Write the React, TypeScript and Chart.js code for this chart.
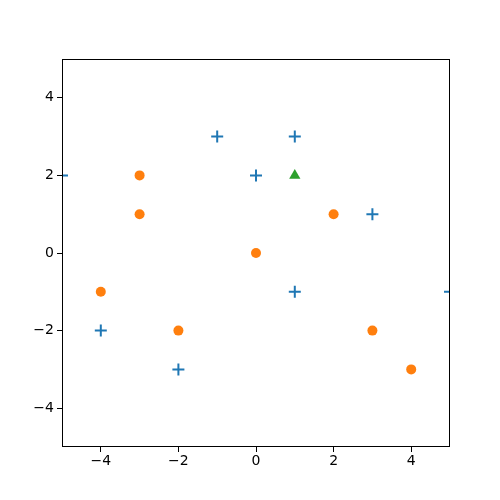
import React, { useEffect, useRef } from "react";
import { Chart, registerables } from "chart.js";

Chart.register(...registerables);

const plusX = [-5, -1, 1, 0, 3, 1, 5, -4, -2];
const plusY = [2, 3, 3, 2, 1, -1, -1, -2, -3];
const circleX = [-3, -3, 2, 0, -4, -2, 3, 4];
const circleY = [2, 1, 1, 0, -1, -2, -2, -3];
const triX = [1];
const triY = [2];
const tickValues = [-4, -2, 0, 2, 4];

const toPts = (xs: number[], ys: number[]) => xs.map((x, i) => ({ x, y: ys[i] }));

const framePlugin = {
  id: "frame",
  afterDraw(chart: any) {
    const { ctx, chartArea } = chart;
    ctx.save();
    ctx.strokeStyle = "#000";
    ctx.lineWidth = 1;
    ctx.strokeRect(
      Math.round(chartArea.left) + 0.5,
      Math.round(chartArea.top) + 0.5,
      Math.round(chartArea.right - chartArea.left) - 1,
      Math.round(chartArea.bottom - chartArea.top) - 1
    );
    ctx.restore();
  },
};

export default function App() {
  const ref = useRef<HTMLCanvasElement>(null);
  useEffect(() => {
    if (!ref.current) return;
    const font = { family: "DejaVu Sans", size: 14 };
    const axisCommon = (horizontal: boolean) => ({
      type: "linear" as const,
      min: -5,
      max: 5,
      afterBuildTicks: (axis: any) => {
        axis.ticks = tickValues.map((v) => ({ value: v }));
      },
      afterFit: (axis: any) => {
        if (horizontal) axis.height = 53;
        else axis.width = 62;
      },
      grid: {
        drawOnChartArea: false,
        drawTicks: true,
        tickLength: 5,
        color: "#000",
        tickWidth: 1,
      },
      border: { display: false },
      ticks: {
        color: "#000",
        font,
        padding: horizontal ? 1 : 3,
        maxRotation: 0,
        callback: (v: any) => String(v).replace("-", "\u2212"),
      },
    });
    const chart = new Chart(ref.current, {
      type: "scatter",
      data: {
        datasets: [
          {
            data: toPts(plusX, plusY),
            pointStyle: "cross",
            pointRadius: 6,
            borderWidth: 2,
            borderColor: "#1f77b4",
            backgroundColor: "#1f77b4",
            clip: 0,
          } as any,
          {
            data: toPts(circleX, circleY),
            pointStyle: "circle",
            pointRadius: 5,
            borderWidth: 0,
            borderColor: "#ff7f0e",
            backgroundColor: "#ff7f0e",
            clip: 0,
          },
          {
            data: toPts(triX, triY),
            pointStyle: "triangle",
            pointRadius: 6.5,
            borderWidth: 0,
            borderColor: "#2ca02c",
            backgroundColor: "#2ca02c",
            clip: 0,
          },
        ],
      },
      options: {
        animation: false,
        responsive: false,
        events: [],
        layout: { padding: { top: 59, right: 50, left: 0, bottom: 0 } },
        plugins: { legend: { display: false }, tooltip: { enabled: false } },
        scales: {
          x: axisCommon(true),
          y: axisCommon(false),
        },
      },
      plugins: [framePlugin],
    });
    return () => chart.destroy();
  }, []);
  return (
    <div style={{ position: "absolute", left: 0, top: 0, width: 500, height: 500, background: "#fff" }}>
      <canvas ref={ref} width={500} height={500} style={{ width: 500, height: 500 }} />
    </div>
  );
}
